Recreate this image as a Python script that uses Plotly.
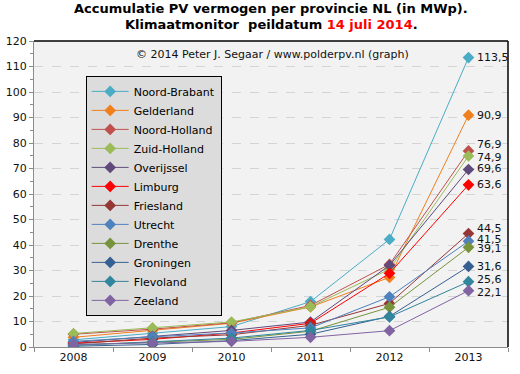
import plotly.graph_objects as go

years = ["2008", "2009", "2010", "2011", "2012", "2013"]
provinces = ["Noord-Brabant", "Gelderland", "Noord-Holland", "Zuid-Holland", "Overijssel",
             "Limburg", "Friesland", "Utrecht", "Drenthe", "Groningen", "Flevoland", "Zeeland"]

noord_brabant = [2.8, 5.3, 8.0, 17.8, 42.2, 113.5]
gelderland    = [3.8, 6.5, 9.3, 15.7, 27.3, 90.9]
noord_holland = [5.0, 7.0, 9.5, 16.3, 32.4, 76.9]
zuid_holland  = [5.3, 7.5, 9.8, 15.8, 30.5, 74.9]
overijssel    = [1.8, 4.2, 6.5, 9.8, 32.0, 69.6]
limburg       = [1.5, 3.0, 5.5, 9.3, 28.9, 63.6]
friesland     = [1.2, 3.5, 4.8, 8.5, 17.1, 44.5]
utrecht       = [2.2, 4.0, 5.5, 7.5, 19.7, 41.5]
drenthe       = [0.8, 2.0, 3.0, 6.2, 15.6, 39.1]
groningen     = [0.3, 1.0, 2.5, 5.0, 12.0, 31.6]
flevoland     = [0.6, 2.0, 3.5, 6.5, 11.8, 25.6]
zeeland       = [1.0, 1.5, 2.2, 3.8, 6.4, 22.1]

series = [noord_brabant, gelderland, noord_holland, zuid_holland, overijssel, limburg,
          friesland, utrecht, drenthe, groningen, flevoland, zeeland]

colors = ["#4bacc6", "#f07f1e", "#c0504d", "#9bbb59", "#604a7b", "#ff0000",
          "#953735", "#4f81bd", "#77933c", "#376092", "#31859c", "#8064a2"]
label_shift = [0, 0, 6, -1, 1, 0, 5, 2, -1, 0, 2, -2]

fig = go.Figure()
for name, vals, col in zip(provinces, series, colors):
    fig.add_trace(go.Scatter(
        x=years, y=vals, name=name, mode="lines+markers",
        line=dict(color=col, width=1),
        marker=dict(symbol="diamond", size=9, color=col),
    ))

last = len(years) - 1
for vals, shift in zip(series, label_shift):
    fig.add_annotation(x=last, y=vals[-1], text=f"{vals[-1]:.1f}".replace(".", ","),
                       showarrow=False, xanchor="left", xshift=6, yshift=shift,
                       font=dict(family="DejaVu Sans", size=11, color="#111111"))

fig.add_annotation(xref="paper", yref="paper", x=0.21, y=0.955, xanchor="left",
                   yanchor="middle", showarrow=False,
                   text="© 2014 Peter J. Segaar / www.polderpv.nl (graph)",
                   font=dict(family="DejaVu Sans", size=11, color="#111111"))

title_font = dict(family="DejaVu Sans", size=13, color="#000000", weight="bold")
fig.add_annotation(xref="paper", yref="paper", x=0.5, y=1 + 32 / 306, xanchor="center",
                   yanchor="middle", showarrow=False,
                   text="Accumulatie PV vermogen per provincie NL (in MWp).", font=title_font)
fig.add_annotation(xref="paper", yref="paper", x=0.5, y=1 + 16 / 306, xanchor="center",
                   yanchor="middle", showarrow=False,
                   text="Klimaatmonitor  peildatum <span style='color:#ff0000'>14 juli 2014</span>.",
                   font=title_font)

fig.update_layout(
    width=520, height=374,
    margin=dict(l=34, r=12, t=41, b=27, autoexpand=False),
    paper_bgcolor="white", plot_bgcolor="#f2f2f2",
    showlegend=True,
    legend=dict(x=0.109, y=0.886, xanchor="left", yanchor="top",
                bgcolor="#dcdcdc", bordercolor="#000000", borderwidth=1,
                font=dict(family="DejaVu Sans", size=11, color="#000000"),
                itemwidth=37, tracegroupgap=0),
    font=dict(family="DejaVu Sans", size=11, color="#111111"),
)
fig.update_xaxes(type="category", range=[-0.5, 5.5], showgrid=False, automargin=False,
                 showline=True, linecolor="#8c8c8c", ticks="outside", ticklen=4,
                 tickcolor="#8c8c8c", tickson="boundaries", mirror=False,
                 tickfont=dict(family="DejaVu Sans", size=11, color="#111111"))
fig.update_yaxes(range=[0, 120], dtick=10, showgrid=True, gridcolor="#d4d4d4", automargin=False,
                 griddash="dash", zeroline=False, showline=True, linecolor="#8c8c8c",
                 ticks="outside", ticklen=4, tickcolor="#8c8c8c",
                 minor=dict(dtick=5, ticks="outside", ticklen=3, tickcolor="#8c8c8c", showgrid=False),
                 tickfont=dict(family="DejaVu Sans", size=11, color="#111111"))
fig.add_shape(type="line", xref="paper", yref="paper", x0=0, x1=1, y0=1, y1=1,
              line=dict(color="#000000", width=1.5))
fig.add_shape(type="line", xref="paper", yref="paper", x0=1, x1=1, y0=0, y1=1,
              line=dict(color="#000000", width=1.5))

fig.write_html("out.html", config={"displayModeBar": False},
               post_script="document.body.style.margin='0';")
